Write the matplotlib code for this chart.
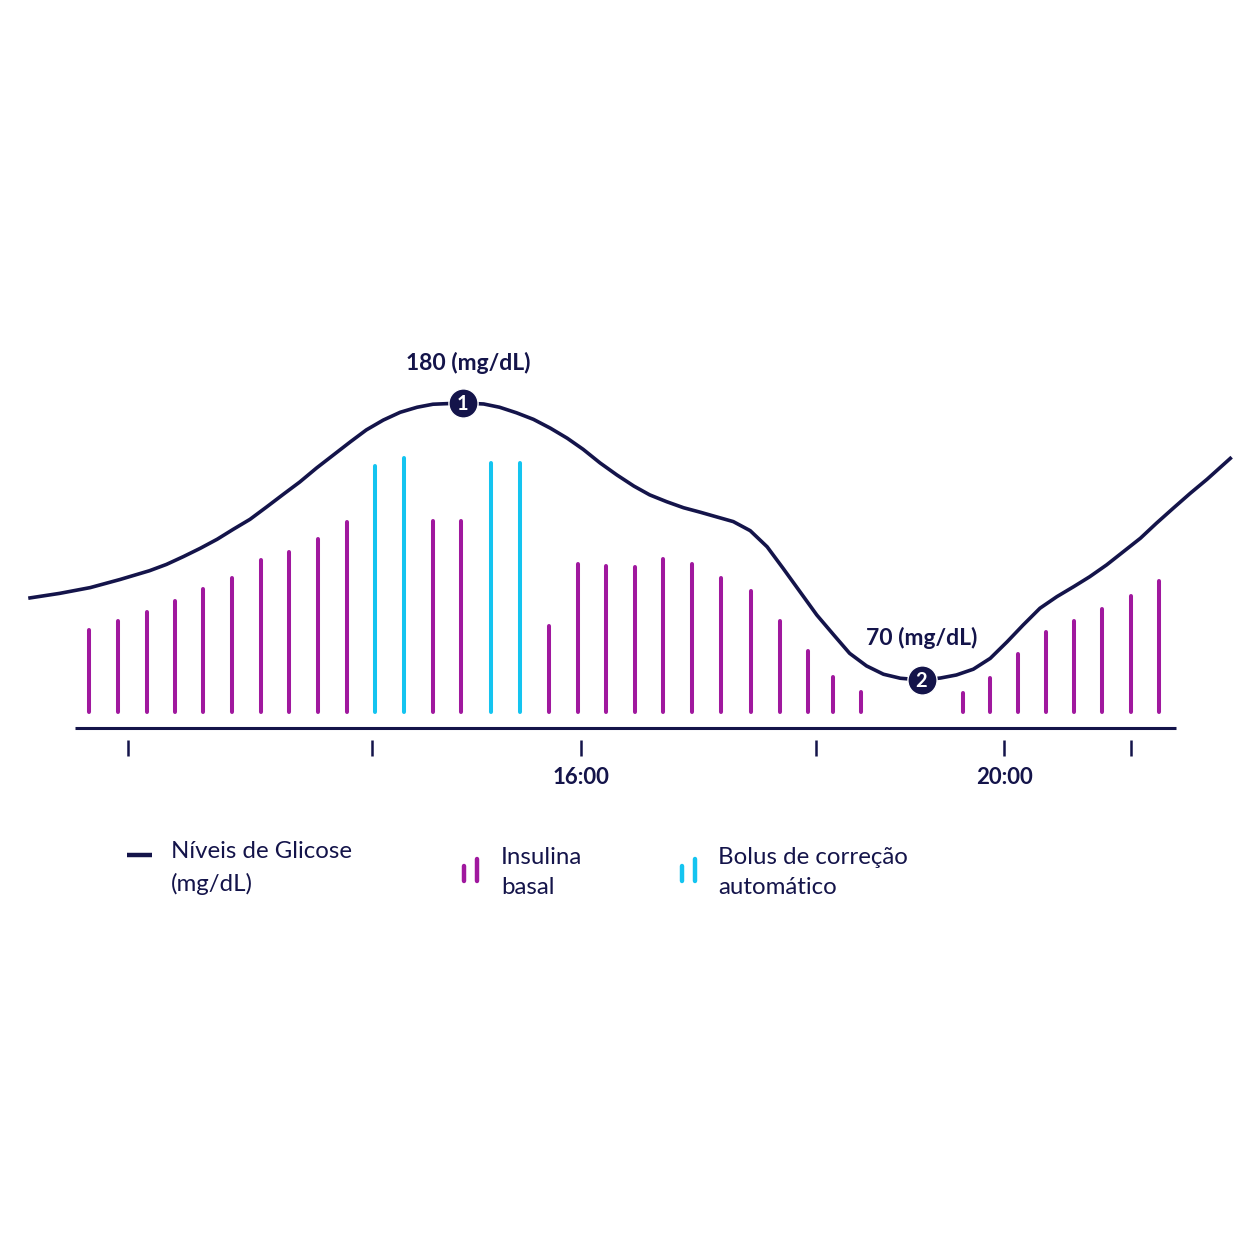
import numpy as np
import matplotlib.pyplot as plt

# glucose curve (hours, mg/dL)
curve_t = [10.79, 11.07, 11.36, 11.64, 11.92, 12.08, 12.24, 12.40, 12.56, 12.71,
           12.87, 13.03, 13.19, 13.34, 13.50, 13.66, 13.82, 13.97, 14.13, 14.29,
           14.45, 14.60, 14.88, 15.08, 15.23, 15.39, 15.55, 15.71, 15.87, 16.02,
           16.18, 16.34, 16.50, 16.65, 16.81, 16.97, 17.13, 17.28, 17.44, 17.60,
           17.76, 17.91, 18.07, 18.23, 18.39, 18.54, 18.70, 18.86, 19.02, 19.22,
           19.40, 19.55, 19.71, 19.87, 20.03, 20.18, 20.34, 20.50, 20.66, 20.81,
           20.97, 21.13, 21.29, 21.44, 21.60, 21.76, 21.92, 22.14]
curve_mg = [102.6, 104.4, 106.7, 109.9, 113.4, 115.9, 119.0, 122.3, 125.9, 129.8,
            133.8, 138.8, 143.9, 148.6, 154.2, 159.4, 164.6, 169.3, 173.2, 176.3,
            178.3, 179.5, 180.0, 179.6, 178.3, 176.1, 173.5, 170.0, 166.0, 161.6,
            156.2, 151.4, 147.0, 143.5, 140.8, 138.4, 136.6, 134.8, 132.9, 129.3,
            122.9, 114.4, 105.1, 95.8, 87.9, 80.6, 75.6, 72.3, 70.7, 70.0,
            70.8, 72.0, 74.3, 78.6, 85.2, 91.8, 98.5, 103.1, 107.1, 111.0,
            115.7, 121.0, 126.3, 132.2, 138.2, 144.1, 149.7, 158.0]

# insulin deliveries (hours, units)
basal_t = [11.35, 11.62, 11.90, 12.16, 12.43, 12.70, 12.97, 13.24, 13.51, 13.79,
           14.60, 14.87, 15.70, 15.97, 16.24, 16.51, 16.78, 17.05, 17.32, 17.61,
           17.88, 18.15, 18.38, 18.65, 19.61, 19.87, 20.13, 20.40, 20.66, 20.93,
           21.20, 21.47]
basal_u = [0.82, 0.91, 1.00, 1.11, 1.23, 1.34, 1.52, 1.60, 1.73, 1.90,
           1.91, 1.91, 0.86, 1.48, 1.46, 1.45, 1.53, 1.48, 1.34, 1.21,
           0.91, 0.61, 0.35, 0.20, 0.19, 0.34, 0.58, 0.80, 0.91, 1.03,
           1.16, 1.31]
bolus_t = [14.05, 14.33, 15.15, 15.42]
bolus_u = [2.46, 2.54, 2.49, 2.49]

tick_t = [11.72, 14.02, 16.0, 18.22, 20.0, 21.20]
tick_lbl = ['', '', '16:00', '', '20:00', '']

points = [(14.88, 180, '1'), (19.22, 70, '2')]
notes = [(14.93, 195.9, '180 (mg/dL)'), (19.22, 86.7, '70 (mg/dL)')]

navy = '#14144a'
purple = '#a0189e'
cyan = '#14c4f0'

plt.rcParams['font.family'] = ['Lato', 'DejaVu Sans']

fig = plt.figure(figsize=(12.54, 12.54), dpi=100)
fig.patch.set_facecolor('white')
ax = fig.add_axes([0, 0, 1, 1])
ax.set_xlim(10.506, 22.364)
# 180 mg/dL sits 403 px from the top, 70 mg/dL at 680 px
ax.set_ylim(-157.9, 340.0)
ax.axis('off')

ax2 = ax.twinx()
ax2.set_ylim(-5.42, 7.12)
ax2.axis('off')

# insulin bars
ax2.vlines(basal_t, 0, basal_u, color=purple, lw=2.9, capstyle='round')
ax2.vlines(bolus_t, 0, bolus_u, color=cyan, lw=2.9, capstyle='round')

# x axis line and ticks
ax2.hlines(-0.16, 11.215, 21.626, color=navy, lw=2.2)
ax2.vlines(tick_t, -0.28, -0.44, color=navy, lw=1.8)
for t, lbl in zip(tick_t, tick_lbl):
    ax2.text(t, -0.65, lbl, ha='center', va='center', fontsize=16,
             fontweight='bold', color=navy)

# glucose curve
ax.plot(curve_t, curve_mg, color=navy, lw=2.6, solid_joinstyle='round', zorder=3)

for t, v, n in points:
    ax.plot(t, v, 'o', ms=21, mfc=navy, mec='white', mew=1.0, zorder=5)
    ax.text(t, v - 0.3, n, ha='center', va='center', color='white',
            fontsize=14.5, fontweight='bold', zorder=6)
for t, v, lbl in notes:
    ax.text(t, v, lbl, ha='center', va='center', fontsize=16.5,
            fontweight='bold', color=navy)

# legend
lx = fig.add_axes([0, 0, 1, 1], facecolor='none')
lx.set_xlim(0, 1254)
lx.set_ylim(1254, 0)
lx.axis('off')
lx.plot([127, 152], [855, 855], color=navy, lw=3.2, solid_capstyle='butt')
lx.vlines([464, 477], [866, 859], 881, color=purple, lw=3.2, capstyle='round')
lx.vlines([682, 695], [866, 859], 881, color=cyan, lw=3.2, capstyle='round')
for x0, y0, txt in [(171, 868, 'Níveis de Glicose\n(mg/dL)'),
                    (501, 872.5, 'Insulina\nbasal'),
                    (718, 872.5, 'Bolus de correção\nautomático')]:
    lx.text(x0, y0, txt, ha='left', va='center', fontsize=17.3,
            color=navy, linespacing=1.55)

fig.savefig('out.png', dpi=100, facecolor='white')
